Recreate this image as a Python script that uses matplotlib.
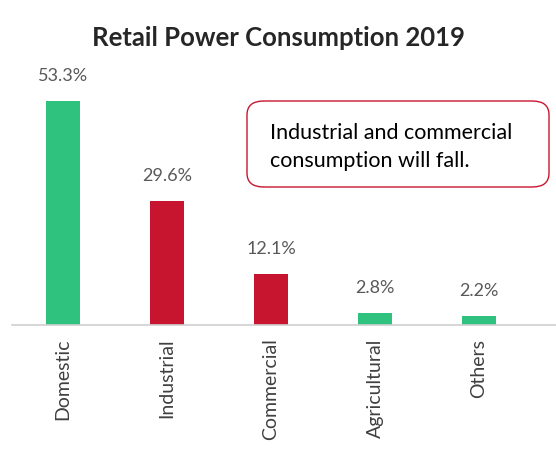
import matplotlib.pyplot as plt
from matplotlib.patches import FancyBboxPatch

categories = ['Domestic', 'Industrial', 'Commercial', 'Agricultural', 'Others']
share = [53.3, 29.6, 12.1, 2.8, 2.2]
bar_colors = ['#2EC27E', '#C8152F', '#C8152F', '#2EC27E', '#2EC27E']
value_labels = ['53.3%', '29.6%', '12.1%', '2.8%', '2.2%']

plt.rcParams['font.family'] = ['Lato', 'DejaVu Sans']

fig = plt.figure(figsize=(5.56, 4.60), dpi=100)
ax = fig.add_axes([12/556, 1-326/460, 544/556, 266/460])

x = list(range(len(categories)))
ax.bar(x, share, width=0.32, color=bar_colors)
for xi, v, lab in zip(x, share, value_labels):
    ax.text(xi, v + 4.3, lab, ha='center', va='bottom', fontsize=13, color='#595959')

ax.set_xlim(-0.49, 4.74)
ax.set_ylim(0, 266/4.2)
ax.set_xticks(x)
ax.set_xticklabels(categories, rotation=90, fontsize=14, color='#404040')
ax.tick_params(axis='x', length=0, pad=9)
ax.set_yticks([])
for s in ['top', 'right', 'left']:
    ax.spines[s].set_visible(False)
ax.spines['bottom'].set_color('#D0D0D0')
ax.spines['bottom'].set_linewidth(1.2)

fig.text(0.5, 1-38/460, 'Retail Power Consumption 2019', ha='center', va='center',
         fontsize=18.5, fontweight='bold', color='#262626')

# note box
box = FancyBboxPatch((247/556, 1-188/460), 302/556, 86/460,
                     boxstyle='round,pad=0,rounding_size=0.03',
                     transform=fig.transFigure, facecolor='white',
                     edgecolor='#C8152F', linewidth=1.0)
fig.patches.append(box)
fig.text(270/556, 1-147/460, 'Industrial and commercial\nconsumption will fall.',
         ha='left', va='center', fontsize=15.5, color='black', linespacing=1.45)

fig.savefig('out.png', dpi=100)
